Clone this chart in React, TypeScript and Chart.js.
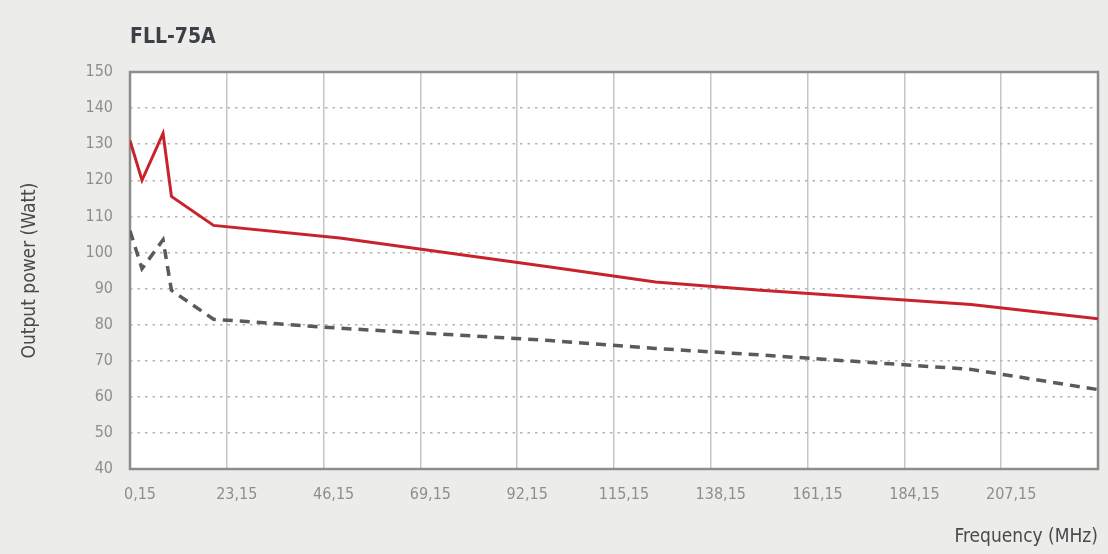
import React, { useEffect, useRef } from "react";
import { Chart, registerables } from "chart.js";

Chart.register(...registerables);

const freqMHz = [0.15, 3, 8, 10, 20, 50, 100, 125, 150, 200, 230.15];
const powerRed = [131, 120, 133, 115.5, 107.5, 104, 96, 91.8, 89.5, 85.6, 81.6];
const powerGray = [106, 95.5, 103.5, 89.5, 81.5, 79, 75.6, 73.4, 71.6, 67.6, 62];

const xTickValues = [0.15, 23.15, 46.15, 69.15, 92.15, 115.15, 138.15, 161.15, 184.15, 207.15, 230.15];
const xTickLabels = ["0,15", "23,15", "46,15", "69,15", "92,15", "115,15", "138,15", "161,15", "184,15", "207,15", ""];

const chartTitle = "FLL-75A";
const yTitle = "Output power (Watt)";
const xTitle = "Frequency (MHz)";

const FONT = "'DejaVu Sans Condensed', 'Liberation Sans Narrow', 'DejaVu Sans', sans-serif";

const plotFrame = {
  id: "plotFrame",
  beforeDraw(chart: any) {
    const { ctx, chartArea } = chart;
    ctx.save();
    ctx.fillStyle = "#ffffff";
    ctx.fillRect(chartArea.left, chartArea.top, chartArea.right - chartArea.left, chartArea.bottom - chartArea.top);
    ctx.restore();
  },
  beforeDatasetsDraw(chart: any) {
    const { ctx, chartArea } = chart;
    ctx.save();
    ctx.strokeStyle = "#8c8c8c";
    ctx.lineWidth = 2.5;
    ctx.strokeRect(chartArea.left, chartArea.top, chartArea.right - chartArea.left, chartArea.bottom - chartArea.top);
    ctx.restore();
  },
};

export default function App() {
  const ref = useRef<HTMLCanvasElement | null>(null);

  useEffect(() => {
    if (!ref.current) return;
    const chart = new Chart(ref.current, {
      type: "line",
      data: {
        datasets: [
          {
            label: "red",
            data: freqMHz.map((x, i) => ({ x, y: powerRed[i] })),
            borderColor: "#c8232c",
            borderWidth: 3,
            pointRadius: 0,
            tension: 0,
            fill: false,
          },
          {
            label: "gray",
            data: freqMHz.map((x, i) => ({ x, y: powerGray[i] })),
            borderColor: "#5a5a5a",
            borderWidth: 3.5,
            borderDash: [10, 7],
            pointRadius: 0,
            tension: 0,
            fill: false,
          },
        ],
      },
      options: {
        animation: false,
        responsive: false,
        devicePixelRatio: 1,
        layout: { padding: { left: 0, right: 10, top: 0, bottom: 0 } },
        plugins: {
          legend: { display: false },
          tooltip: { enabled: false },
          title: {
            display: true,
            text: chartTitle,
            align: "start",
            fullSize: false,
            color: "#3b4046",
            font: { family: FONT, size: 21, weight: "bold" },
            padding: { top: 25.4, bottom: 21.4 },
          },
        },
        scales: {
          x: {
            type: "linear",
            min: 0.15,
            max: 230.15,
            afterBuildTicks: (axis: any) => {
              axis.ticks = xTickValues.map((v) => ({ value: v }));
            },
            afterFit: (scale: any) => {
              scale.height = 85;
              scale.paddingLeft = 0;
              scale.paddingRight = 0;
            },
            ticks: {
              autoSkip: false,
              maxRotation: 0,
              padding: 16,
              labelOffset: 10,
              color: "#8e8e8e",
              font: { family: FONT, size: 16 },
              callback: (_v: any, i: number) => xTickLabels[i],
            },
            grid: { color: "#c6c6c6", lineWidth: 1.5, drawTicks: false },
            border: { display: false },
            title: {
              display: true,
              text: xTitle,
              align: "end",
              color: "#4a4a4a",
              font: { family: FONT, size: 19 },
              padding: { top: 0, bottom: 5.6 },
            },
          },
          y: {
            type: "linear",
            min: 40,
            max: 150,
            afterFit: (scale: any) => {
              scale.width = 130;
              scale.paddingTop = 0;
              scale.paddingBottom = 0;
            },
            ticks: {
              stepSize: 10,
              padding: 17,
              color: "#8e8e8e",
              font: { family: FONT, size: 16 },
            },
            grid: { color: "#b3b3b3", lineWidth: 1.5, drawTicks: false },
            border: { display: false, dash: [2.5, 5] },
            title: {
              display: true,
              text: yTitle,
              color: "#4a4a4a",
              font: { family: FONT, size: 19 },
              padding: { top: 18.6, bottom: 0 },
            },
          },
        },
      },
      plugins: [plotFrame],
    });
    return () => chart.destroy();
  }, []);

  return (
    <div style={{ position: "fixed", left: 0, top: 0, width: 1108, height: 554, background: "#ececeb" }}>
      <canvas ref={ref} width={1108} height={554} style={{ display: "block" }} />
    </div>
  );
}
